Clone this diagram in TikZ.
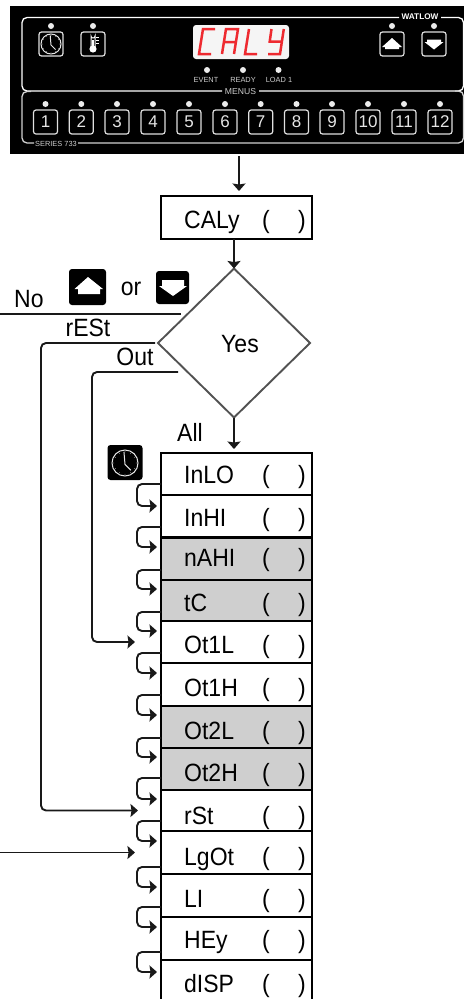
\documentclass[tikz,border=0pt]{standalone}
\usepackage{fontspec}
\setmainfont{Liberation Sans}
\newfontfamily\flowfont[FakeStretch=0.92]{Liberation Sans}
\usetikzlibrary{arrows.meta,shapes.geometric}
\definecolor{rowgray}{HTML}{CFCFCF}
\definecolor{segred}{HTML}{EE2A30}
\tikzset{
  x=1pt,y=-1pt,
  flowtxt/.style={anchor=base west,inner sep=0pt,font=\flowfont\fontsize{25}{25}\selectfont},
  parentxt/.style={anchor=base,inner sep=0pt,font=\flowfont\fontsize{25}{25}\selectfont},
  rowbox/.style={draw=black,line width=2.2pt,rectangle,inner sep=0pt,outer sep=0pt,minimum width=151pt},
  wire/.style={draw=black!90,line width=1.9pt,rounded corners=5pt},
  arrowwire/.style={wire,-{Stealth[length=7.5pt,width=13pt,inset=1pt]}},
  keybox/.style={draw=black!12,line width=1.2pt,rectangle,rounded corners=2.5pt,minimum size=24pt,inner sep=0pt,outer sep=0pt,text=white!90!black,font=\fontsize{17}{17}\selectfont},
  led/.style={circle,fill=white!92!black,inner sep=0pt,minimum size=6pt},
  paneltxt/.style={inner sep=0pt,text=white!80!black,font=\fontsize{7.4}{7.4}\selectfont},
  outline/.style={draw=white,line width=1.3pt,rounded corners=5pt},
  outlinelow/.style={draw=white!82!black,line width=1.3pt,rounded corners=5pt},
  seg/.style={draw=segred,line width=2.5pt,line cap=butt},
  iconbox/.style={fill=black,rectangle,rounded corners=3pt,inner sep=0pt,outer sep=0pt},
}
\newcommand{\clockface}[3]{%
  \draw[white!90!black,line width=1pt] (#1,#2) circle[radius=#3];
  \foreach \ang in {0,30,...,330}
    \fill[white!90!black] ({#1+0.86*#3*cos(\ang)},{#2+0.86*#3*sin(\ang)}) circle[radius=0.35pt];
  \draw[white!90!black,line width=1pt,line join=round]
    ({#1-0.08*#3},{#2-0.85*#3}) -- ({#1},{#2+0.1*#3}) -- ({#1+0.45*#3},{#2+0.55*#3});
}
\newcommand{\flowrow}[7]{% name, top, bottom, label, baseline, fill
  \node[rowbox,fill=#6,minimum height={(#3-#2)*1pt}] (#1) at (236.5,{(#2+#3)/2}) {};
  \node[flowtxt] (#1t) at (184,#5) {#4};
  \node[parentxt] (#1o) at (266,#5) {(};
  \node[parentxt] (#1c) at (302,#5) {)};
}
\begin{document}
\begin{tikzpicture}
\useasboundingbox (0,0) rectangle (464,999);
\clip (0,0) rectangle (464,999);
% --- panel
\node[fill=black,rectangle,inner sep=0pt,outer sep=0pt,minimum width=454pt,minimum height=148pt] (panel) at (237,80) {};
\draw[outline] (222,91) -- (22,91) -- (22,17.5) -- (399,17.5);
\draw[outline] (441,17.5) -- (463.5,17.5) -- (463.5,91) -- (259,91);
\draw[outlinelow] (34,143) -- (22,143) -- (22,91.5) -- (31,91.5);
\draw[outlinelow] (78,143) -- (463.5,143) -- (463.5,91) -- (455,91);
\node[inner sep=0pt,text=white,font=\bfseries\fontsize{8.2}{8.2}\selectfont] (watlow) at (420,17) {WATLOW};
\node[paneltxt,font=\fontsize{8.6}{8.6}\selectfont] (menus) at (240.5,92) {MENUS};
\node[paneltxt] (series) at (56,143.5) {SERIES 733};
\node[fill=white!96!black,rectangle,rounded corners=3pt,minimum width=96pt,minimum height=34pt,inner sep=0pt] (display) at (241,42) {};
\foreach \xo/\segs in {199/{(12,54)--(0,54)--(2,41.5)--(4,29)--(16,29)},
                       222/{(0,54)--(4,29)--(16,29)--(12,54) (1.9,42)--(14.1,42)},
                       246/{(3,29)--(-1,54)--(11,54)},
                       268/{(3.5,29)--(1.7,41.5)--(14,41.5) (15.8,29)--(12,54)--(0,54)}}{
  \begin{scope}[xshift=\xo pt]
    \draw[seg] \segs;
  \end{scope}
}
% top buttons
\node[keybox] (kclock) at (51,44) {};
\node[keybox] (ktherm) at (93,44) {};
\node[keybox] (kup) at (392,44) {};
\node[keybox] (kdown) at (434,44) {};
\foreach \n/\xx in {lclock/51,ltherm/93,lup/392,ldown/434}
  \node[led] (\n) at (\xx,26) {};
\clockface{51}{44}{10}
\draw[white,line width=1pt] (91,48) -- (91,36) arc[start angle=180,end angle=0,radius=2] -- (95,48);
\fill[white] (93,49) circle[radius=3.6pt];
\fill[white] (92,40) rectangle (94,48);
\foreach \yy in {37,40,43}
  \draw[white,line width=.8pt] (96,\yy) -- (99,\yy);
\fill[white] (392,38) -- (402,47) -- (399,47) -- (399,49) -- (385,49) -- (385,47) -- (382,47) -- cycle;
\fill[white] (427,39.5) -- (441,39.5) -- (441,42) -- (443.5,42) -- (434,49.5) -- (424.5,42) -- (427,42) -- cycle;
% indicators
\node[led] (levent) at (207,70) {};
\node[led] (lready) at (243,70) {};
\node[led] (lload) at (278.5,70) {};
\node[paneltxt] (tevent) at (206,80) {EVENT};
\node[paneltxt] (tready) at (243,79.5) {READY};
\node[paneltxt] (tload) at (279,79.5) {LOAD 1};
% numbered keys
\foreach \i/\xx in {1/45.5,2/81.3,3/117,4/153,5/189,6/225,7/260.7,8/296.5,9/332,10/368,11/404,12/440}{
  \node[led] (led\i) at (\xx,104) {};
  \node[keybox] (key\i) at (\xx,122) {\i};
}
% --- flow
\node[rowbox,minimum height=43pt] (caly) at (236.5,217.5) {};
\node[flowtxt] (calyt) at (184,228) {CALy};
\node[parentxt] (calyo) at (266,228) {(};
\node[parentxt] (calyc) at (302,228) {)};
\draw[arrowwire,line width=2.2pt] ([xshift=2pt,yshift=-2pt]panel.south) -- ([xshift=2.5pt,yshift=5pt]caly.north);
\node[diamond,draw=black!68,line width=1.9pt,inner sep=0pt,outer sep=0pt,minimum width=152pt,minimum height=149pt] (dia) at (234,343) {};
\node[inner sep=0pt,anchor=base,font=\flowfont\fontsize{25}{25}\selectfont] (yes) at (240,352) {Yes};
\draw[arrowwire] ([xshift=-2.5pt]caly.south) -- (dia.north);
% rows
\flowrow{r1}{453}{495}{InLO}{483}{white}{}
\flowrow{r2}{495}{537.5}{InHI}{526}{white}{}
\flowrow{r3}{537.5}{580}{nAHI}{566}{rowgray}{}
\flowrow{r4}{580}{621}{tC}{611}{rowgray}{}
\flowrow{r5}{621}{663}{Ot1L}{653}{white}{}
\flowrow{r6}{663}{706}{Ot1H}{696}{white}{}
\flowrow{r7}{706}{748}{Ot2L}{739}{rowgray}{}
\flowrow{r8}{748}{790}{Ot2H}{781}{rowgray}{}
\flowrow{r9}{790}{831}{rSt}{824}{white}{}
\flowrow{r10}{831}{874}{LgOt}{865}{white}{}
\flowrow{r11}{874}{917}{LI}{907}{white}{}
\flowrow{r12}{917}{960}{HEy}{948}{white}{}
\flowrow{r13}{960}{1004}{dISP}{992}{white}{}
\foreach \a/\b/\ya/\yb in {r1/r2/484/506,r2/r3/527/547,r3/r4/570/589,r4/r5/612/631,r5/r6/653/673,r6/r7/695/715,r7/r8/738/757,r8/r9/778/799,r9/r10/821/841,r10/r11/867/887,r11/r12/907/927,r12/r13/952/972}
  \draw[arrowwire] (\a.west |- 0,\ya) -- ++(-24,0) |- ([xshift=-4pt]\b.west |- 0,\yb);
\draw[arrowwire] (dia.south) -- ([xshift=-2.5pt,yshift=4pt]r1.north);
\coordinate (nofree) at (0,314);
\coordinate (noend) at (181,314);
\draw[wire,line width=1.7pt] (nofree) -- (noend);
\draw[arrowwire] ([xshift=-3pt]dia.west) -- (41,343) -- (41,810.5) -- ([xshift=-23pt]r9.west);
\coordinate (outstart) at (178,372);
\draw[arrowwire] (outstart) -- (92,372) -- (92,642) -- ([xshift=-26pt]r5.west);
\coordinate (lgfree) at (0,852.5);
\draw[arrowwire] (lgfree) -- ([xshift=-26pt]r10.west);
% labels
\node[flowtxt] (no) at (14,307) {No};
\node[parentxt] (rest) at (88,336) {rESt};
\node[parentxt] (out) at (135,365) {Out};
\node[parentxt] (all) at (190,441) {All};
\node[parentxt] (or) at (131,295) {or};
\node[iconbox,minimum width=37pt,minimum height=36pt] (upicon) at (87.5,287) {};
\fill[white] (88,277) -- (103,289) -- (100,289) -- (100,294) -- (78,294) -- (78,289) -- (74.5,289) -- cycle;
\node[iconbox,minimum width=33pt,minimum height=33pt] (downicon) at (172.5,287.5) {};
\fill[white] (162,280) -- (184,280) -- (184,286) -- (187,286) -- (173,296) -- (159,286) -- (162,286) -- cycle;
\node[iconbox,minimum width=35pt,minimum height=35pt] (clockicon) at (125,462.5) {};
\clockface{125}{463}{13}
\end{tikzpicture}
\end{document}
